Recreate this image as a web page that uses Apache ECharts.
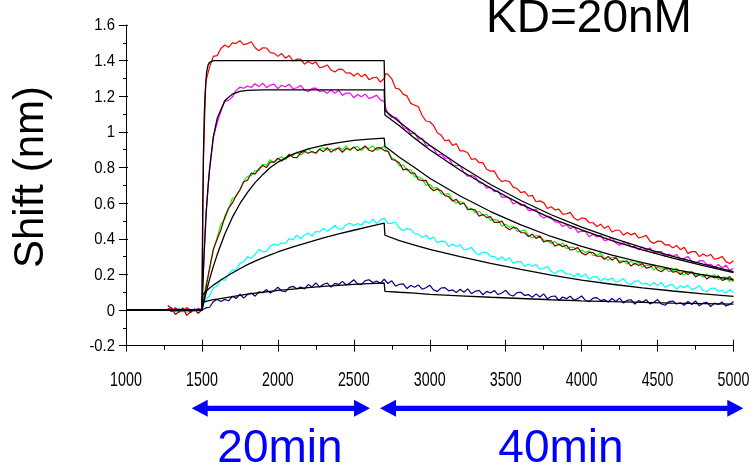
<!DOCTYPE html>
<html><head><meta charset="utf-8">
<script src="https://cdn.jsdelivr.net/npm/echarts@6/dist/echarts.min.js"></script>
<style>html,body{margin:0;padding:0;background:#fff}#c{width:753px;height:468px}</style>
</head><body><div id="c"></div><script>
// ---------- axis ticks ----------
const xTickValues = [1000,1500,2000,2500,3000,3500,4000,4500,5000];
const xTickLabels = ['1000','1500','2000','2500','3000','3500','4000','4500','5000'];
const yTickValues = [-0.2,0,0.2,0.4,0.6,0.8,1,1.2,1.4,1.6];
const yTickLabels = ['-0.2','0','0.2','0.4','0.6','0.8','1','1.2','1.4','1.6'];

// ---------- measured traces (time, s) ----------
const tData = [
 1275,1300,1325,1350,1375,1400,1425,1450,1475,1500,
 1510,
 1525,1550,1575,1600,1625,1650,1675,1700,1725,1750,
 1775,1800,1825,1850,1875,1900,1925,1950,1975,2000,
 2025,2050,2075,2100,2125,2150,2175,2200,2225,2250,
 2275,2300,2325,2350,2375,2400,2425,2450,2475,2500,
 2525,2550,2575,2600,2625,2650,2675,2700,
 2710,2725,2750,2775,2800,2825,2850,2875,2900,2925,
 2950,2975,3000,3025,3050,3075,3100,3125,3150,3175,
 3200,3225,3250,3275,3300,3325,3350,3375,3400,3425,
 3450,3475,3500,3525,3550,3575,3600,3625,3650,3675,
 3700,3725,3750,3775,3800,3825,3850,3875,3900,3925,
 3950,3975,4000,4025,4050,4075,4100,4125,4150,4175,
 4200,4225,4250,4275,4300,4325,4350,4375,4400,4425,
 4450,4475,4500,4525,4550,4575,4600,4625,4650,4675,
 4700,4725,4750,4775,4800,4825,4850,4875,4900,4925,
 4950,4975,5000
];
const redTrace = [
 0.010,-0.006,0.014,-0.012,0.003,0.008,-0.015,0.005,-0.003,0.000,
 0.85,
 1.280,1.364,1.424,1.428,1.468,1.488,1.475,1.500,1.497,1.512,
 1.490,1.495,1.506,1.472,1.456,1.472,1.471,1.445,1.442,1.424,
 1.440,1.414,1.429,1.398,1.408,1.408,1.380,1.395,1.382,1.392,
 1.360,1.365,1.376,1.347,1.336,1.352,1.351,1.330,1.332,1.314,
 1.330,1.309,1.324,1.293,1.303,1.308,1.280,1.300,
 1.328,1.323,1.298,1.245,1.240,1.212,1.202,1.160,1.150,1.141,
 1.092,1.061,1.057,1.036,0.995,0.982,0.949,0.955,0.924,0.934,
 0.893,0.893,0.883,0.845,0.850,0.827,0.827,0.790,0.780,0.781,
 0.742,0.721,0.727,0.721,0.690,0.682,0.659,0.665,0.639,0.644,
 0.608,0.613,0.603,0.570,0.580,0.562,0.567,0.538,0.540,0.548,
 0.517,0.504,0.517,0.514,0.490,0.490,0.469,0.482,0.459,0.472,
 0.438,0.448,0.448,0.420,0.435,0.422,0.432,0.405,0.410,0.419,
 0.387,0.374,0.387,0.386,0.365,0.367,0.349,0.363,0.339,0.352,
 0.318,0.328,0.328,0.300,0.315,0.302,0.312,0.285,0.290,0.301,
 0.272,0.261,0.277
];
const magentaTrace = [
 0.005,0.012,-0.008,0.004,-0.010,0.015,0.000,-0.006,0.010,0.000,
 0.22,
 0.525,0.787,0.972,1.050,1.115,1.171,1.177,1.196,1.232,1.251,
 1.245,1.257,1.249,1.270,1.254,1.274,1.248,1.263,1.268,1.243,
 1.262,1.253,1.267,1.242,1.248,1.261,1.234,1.226,1.244,1.246,
 1.227,1.232,1.216,1.235,1.216,1.234,1.205,1.218,1.218,1.192,
 1.210,1.197,1.212,1.187,1.195,1.206,1.180,1.171,
 1.136,1.102,1.081,1.082,1.061,1.025,1.017,0.989,0.995,0.959,
 0.964,0.923,0.923,0.908,0.870,0.875,0.852,0.852,0.815,0.810,
 0.811,0.772,0.751,0.757,0.746,0.715,0.712,0.684,0.690,0.664,
 0.669,0.633,0.635,0.628,0.595,0.605,0.587,0.592,0.560,0.560,
 0.566,0.532,0.516,0.527,0.521,0.495,0.492,0.469,0.480,0.456,
 0.469,0.436,0.443,0.441,0.411,0.425,0.410,0.419,0.390,0.395,
 0.406,0.376,0.364,0.379,0.377,0.355,0.357,0.339,0.355,0.334,
 0.349,0.318,0.328,0.328,0.300,0.315,0.302,0.312,0.285,0.290,
 0.301,0.272,0.261,0.277,0.276,0.255,0.257,0.239,0.256,0.236,
 0.252,0.223,0.235
];
const greenTrace = [
 -0.005,0.008,-0.010,0.000,0.006,-0.012,0.004,-0.004,0.010,0.000,
 0.06,
 0.138,0.225,0.335,0.407,0.482,0.510,0.565,0.626,0.637,0.676,
 0.722,0.751,0.755,0.782,0.784,0.818,0.814,0.844,0.826,0.848,
 0.860,0.843,0.869,0.867,0.887,0.870,0.885,0.906,0.885,0.882,
 0.905,0.911,0.897,0.905,0.893,0.915,0.900,0.921,0.896,0.912,
 0.918,0.895,0.915,0.907,0.922,0.898,0.906,0.921,
 0.902,0.891,0.855,0.842,0.809,0.815,0.784,0.789,0.748,0.748,
 0.738,0.700,0.705,0.684,0.687,0.652,0.650,0.654,0.618,0.600,
 0.609,0.601,0.573,0.569,0.545,0.555,0.529,0.539,0.503,0.508,
 0.503,0.471,0.482,0.465,0.472,0.441,0.443,0.451,0.419,0.405,
 0.418,0.415,0.392,0.392,0.372,0.386,0.363,0.376,0.344,0.353,
 0.352,0.323,0.337,0.323,0.332,0.305,0.310,0.320,0.291,0.280,
 0.296,0.295,0.274,0.276,0.259,0.275,0.255,0.270,0.240,0.251,
 0.252,0.225,0.241,0.229,0.240,0.215,0.221,0.234,0.206,0.197,
 0.215,0.215,0.196,0.200,0.184,0.202,0.183,0.200,0.171,0.183,
 0.185,0.160,0.177
];
const darkRedTrace = [
 0.025,0.010,-0.025,-0.008,0.012,-0.030,-0.010,0.005,-0.018,0.000,
 0.05,
 0.115,0.235,0.341,0.397,0.451,0.522,0.571,0.600,0.642,0.674,
 0.720,0.729,0.769,0.763,0.793,0.811,0.800,0.830,0.830,0.852,
 0.837,0.853,0.875,0.857,0.856,0.882,0.891,0.880,0.890,0.880,
 0.903,0.889,0.911,0.886,0.902,0.908,0.886,0.907,0.900,0.916,
 0.895,0.905,0.921,0.897,0.891,0.910,0.912,0.895,
 0.886,0.891,0.845,0.840,0.825,0.787,0.792,0.769,0.769,0.732,
 0.727,0.728,0.689,0.670,0.679,0.670,0.642,0.637,0.612,0.621,
 0.593,0.601,0.563,0.567,0.561,0.527,0.537,0.519,0.524,0.492,
 0.492,0.499,0.466,0.451,0.464,0.459,0.435,0.434,0.413,0.426,
 0.402,0.415,0.382,0.390,0.388,0.358,0.371,0.356,0.365,0.337,
 0.341,0.351,0.321,0.309,0.324,0.323,0.302,0.303,0.285,0.301,
 0.280,0.295,0.264,0.274,0.275,0.247,0.263,0.250,0.261,0.235,
 0.241,0.253,0.225,0.215,0.232,0.233,0.213,0.217,0.200,0.218,
 0.199,0.215,0.186,0.198,0.200,0.174,0.191,0.180,0.192,0.167,
 0.174,0.188,0.161
];
const cyanTrace = [
 0.000,0.008,-0.006,0.010,-0.004,0.005,-0.010,0.006,0.000,0.000,
 0.03,
 0.062,0.079,0.125,0.134,0.174,0.166,0.201,0.226,0.223,0.262,
 0.270,0.300,0.290,0.313,0.341,0.327,0.329,0.359,0.371,0.363,
 0.378,0.373,0.402,0.394,0.420,0.400,0.421,0.433,0.415,0.441,
 0.439,0.459,0.442,0.456,0.476,0.456,0.454,0.479,0.487,0.475,
 0.486,0.476,0.500,0.487,0.510,0.486,0.505,0.516,
 0.517,0.487,0.487,0.493,0.460,0.445,0.457,0.453,0.429,0.428,
 0.407,0.420,0.397,0.410,0.378,0.387,0.386,0.357,0.371,0.357,
 0.366,0.338,0.342,0.352,0.322,0.310,0.325,0.323,0.301,0.302,
 0.283,0.299,0.278,0.293,0.262,0.272,0.272,0.244,0.259,0.246,
 0.256,0.229,0.234,0.245,0.216,0.205,0.221,0.221,0.201,0.204,
 0.187,0.205,0.186,0.203,0.174,0.186,0.188,0.162,0.179,0.168,
 0.180,0.155,0.163,0.177,0.151,0.143,0.162,0.164,0.146,0.151,
 0.136,0.155,0.137,0.155,0.127,0.140,0.143,0.118,0.136,0.126,
 0.139,0.115,0.123,0.137,0.111,0.103,0.122,0.124,0.106,0.111,
 0.096,0.115,0.098
];
const navyTrace = [
 0.005,-0.008,0.010,0.000,-0.005,0.008,-0.010,0.004,0.000,0.000,
 0.01,
 0.012,0.016,0.047,0.059,0.048,0.060,0.052,0.077,0.065,0.089,
 0.067,0.087,0.096,0.078,0.102,0.097,0.115,0.096,0.109,0.128,
 0.107,0.103,0.127,0.133,0.120,0.129,0.119,0.143,0.130,0.153,
 0.129,0.145,0.151,0.129,0.150,0.144,0.161,0.141,0.152,0.170,
 0.147,0.143,0.165,0.170,0.155,0.163,0.151,0.173,
 0.170,0.149,0.164,0.134,0.145,0.147,0.121,0.138,0.128,0.141,
 0.117,0.125,0.139,0.113,0.105,0.124,0.126,0.108,0.113,0.098,
 0.117,0.100,0.119,0.092,0.106,0.110,0.086,0.105,0.096,0.110,
 0.087,0.096,0.111,0.086,0.079,0.098,0.100,0.082,0.087,0.072,
 0.091,0.073,0.091,0.063,0.076,0.079,0.054,0.073,0.064,0.078,
 0.055,0.064,0.079,0.054,0.047,0.067,0.070,0.053,0.059,0.045,
 0.065,0.048,0.067,0.040,0.054,0.058,0.034,0.053,0.044,0.058,
 0.035,0.044,0.059,0.034,0.027,0.047,0.051,0.034,0.041,0.027,
 0.048,0.031,0.051,0.024,0.039,0.043,0.020,0.039,0.031,0.045,
 0.023,0.032,0.048
];

// ---------- fitted curves ----------
const fitT = [1000,1500,1505,1510,1515,1520,1530,1540,1550,1575,1600,1650,1700,1750,1800,1850,1900,1950,2000,
 2100,2200,2300,2400,2500,2600,2700,2705,2800,2900,3000,3200,3400,3600,3800,4000,4200,4400,4600,4800,5000];
const fitRed = [0,0,0.55,0.88,1.08,1.20,1.33,1.375,1.39,
 1.40,1.40,1.40,1.40,1.40,1.40,1.40,1.40,1.40,1.40,1.40,1.40,1.40,1.40,1.40,1.40,1.40,
 1.12,1.055,0.99,0.925,0.81,0.705,0.615,0.535,0.465,0.405,0.35,0.302,0.258,0.216];
const fitMagenta = [0,0,0.12,0.23,0.33,0.41,0.57,0.69,0.79,0.97,1.075,1.175,1.212,1.228,1.233,1.235,
 1.236,1.236,1.236,1.236,1.236,1.236,1.236,1.236,1.236,1.236,
 1.095,1.035,0.965,0.90,0.785,0.685,0.595,0.515,0.45,0.39,0.338,0.292,0.25,0.21];
const fitGreen = [0,0,0.018,0.036,0.054,0.072,0.107,0.14,0.172,0.245,0.31,0.425,0.52,0.597,0.66,0.715,0.76,0.80,0.83,
 0.875,0.905,0.925,0.94,0.952,0.96,0.965,
 0.92,0.858,0.80,0.74,0.64,0.553,0.478,0.413,0.357,0.308,0.266,0.23,0.198,0.171];
const fitCyan = [0,0,0.085,0.09,0.095,0.10,0.108,0.115,0.122,0.14,0.155,0.183,0.208,0.232,0.255,0.275,0.293,0.31,0.326,
 0.355,0.38,0.405,0.427,0.448,0.468,0.488,
 0.42,0.39,0.365,0.34,0.30,0.262,0.228,0.196,0.168,0.145,0.125,0.107,0.091,0.077];
const fitNavy = [0,0,0.045,0.046,0.047,0.048,0.05,0.052,0.054,0.058,0.062,0.069,0.076,0.083,0.089,0.095,0.10,0.105,0.11,
 0.118,0.126,0.133,0.139,0.144,0.148,0.152,
 0.105,0.10,0.095,0.088,0.08,0.072,0.065,0.058,0.052,0.047,0.043,0.039,0.036,0.033];

// ---------- build ----------
function pairs(t, v){ const n=Math.min(t.length,v.length); if(t.length!==v.length) console.warn('length mismatch',t.length,v.length); const out=[]; for(let i=0;i<n;i++) out.push([t[i],v[i]]); return out; }
function trace(name,color,vals,z){ return {type:'line',name,data:pairs(tData,vals),showSymbol:false,symbol:'none',silent:true,animation:false,z:z,lineStyle:{color,width:1.2},itemStyle:{color}}; }
function fit(name,vals){ return {type:'line',name,data:pairs(fitT,vals),showSymbol:false,symbol:'none',silent:true,animation:false,z:10,lineStyle:{color:'#000',width:1.3},itemStyle:{color:'#000'}}; }

const SANS = "'Liberation Sans',Arial,Helvetica,sans-serif";
const BLUE = '#0000ff';

function arrow(x1,x2,y){ const hl=16, hh=8.5, sw=2.6;
 return {type:'polygon',shape:{points:[[x1,y],[x1+hl,y-hh],[x1+hl,y-sw],[x2-hl,y-sw],[x2-hl,y-hh],[x2,y],[x2-hl,y+hh],[x2-hl,y+sw],[x1+hl,y+sw],[x1+hl,y+hh]]},style:{fill:BLUE},silent:true}; }
function txt(s,x,y,size,color,opts){ opts=opts||{}; const al=opts.align||'center';
 return {type:'text',x:x,y:y,rotation:opts.rot||0,scaleX:opts.sx||1,scaleY:1,silent:true,z:100,
  style:{text:s,x:0,y:0,fill:color,fontSize:size,fontFamily:SANS,textAlign:al,textVerticalAlign:'middle',align:al,verticalAlign:'middle'}}; }

const chart = echarts.init(document.getElementById('c'),null,{renderer:'canvas'});
chart.setOption({
 animation:false,
 backgroundColor:'#ffffff',
 grid:{left:126,top:25,width:607.5,height:320.7,containLabel:false},
 xAxis:[
  {type:'value',min:1000,max:5000,interval:500,position:'bottom',
   axisLine:{show:true,onZero:false,lineStyle:{color:'#000',width:1}},
   axisTick:{show:true,length:6,lineStyle:{color:'#000',width:1}},
   minorTick:{show:true,splitNumber:2,length:4,lineStyle:{color:'#000',width:1}},
   splitLine:{show:false},minorSplitLine:{show:false},
   axisLabel:{show:false}},
  {type:'value',min:1000,max:5000,interval:500,position:'bottom',
   axisLine:{show:false,onZero:false},axisTick:{show:true,inside:true,length:6,lineStyle:{color:'#000',width:1}},
   axisLabel:{show:false},splitLine:{show:false}}
 ],
 yAxis:[
  {type:'value',min:-0.2,max:1.6,interval:0.2,position:'left',
   axisLine:{show:true,onZero:false,lineStyle:{color:'#000',width:1}},
   axisTick:{show:true,length:7,lineStyle:{color:'#000',width:1}},
   minorTick:{show:true,splitNumber:2,length:3,lineStyle:{color:'#000',width:1}},
   splitLine:{show:false},minorSplitLine:{show:false},
   axisLabel:{show:false}},
  {type:'value',min:-0.2,max:1.6,interval:0.2,position:'left',
   axisLine:{show:false,onZero:false},axisTick:{show:true,inside:true,length:2,lineStyle:{color:'#000',width:1}},
   axisLabel:{show:false},splitLine:{show:false}}
 ],
 series:[
  trace('green','#00ff00',greenTrace,2),
  trace('darkred','#800000',darkRedTrace,3),
  trace('cyan','#00ffff',cyanTrace,2),
  trace('navy','#000080',navyTrace,2),
  trace('magenta','#ff00ff',magentaTrace,2),
  trace('red','#ff0000',redTrace,2),
  fit('fitRed',fitRed),
  fit('fitMagenta',fitMagenta),
  fit('fitGreen',fitGreen),
  fit('fitCyan',fitCyan),
  fit('fitNavy',fitNavy)
 ]
});

// tick labels: condensed text placed through the axes' own scales
const axisY = chart.convertToPixel({yAxisIndex:0}, -0.2);
const axisX = chart.convertToPixel({xAxisIndex:0}, 1000);
const labels = [];
xTickValues.forEach((v,i)=>{
 const px = chart.convertToPixel({xAxisIndex:0}, v);
 labels.push(txt(xTickLabels[i], px, axisY+34.6, 21, '#000', {sx:0.68}));
});
yTickValues.forEach((v,i)=>{
 const py = chart.convertToPixel({yAxisIndex:0}, v);
 labels.push(txt(yTickLabels[i], axisX-11, py+0.9, 16.5, '#000', {sx:0.9, align:'right'}));
});

chart.setOption({
 graphic:[
  txt('KD=20nM',589,19.5,46,'#000'),
  txt('Shift (nm)',31,177,42,'#000',{rot:Math.PI/2}),
  arrow(191.7,370,408.3),
  arrow(380,743.3,408.3),
  txt('20min',280,449,46,BLUE),
  txt('40min',561,449,46,BLUE)
 ].concat(labels)
});
</script></body></html>
